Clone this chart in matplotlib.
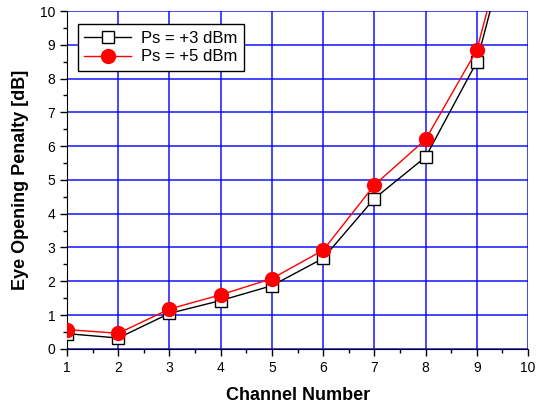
import matplotlib
matplotlib.use("Agg")
from matplotlib import pyplot as plt
from matplotlib.ticker import MultipleLocator

plt.rcParams["font.family"] = ["Liberation Sans", "DejaVu Sans"]

channels = [1, 2, 3, 4, 5, 6, 7, 8, 9, 10]
penalty_3dbm = [0.45, 0.32, 1.05, 1.43, 1.87, 2.68, 4.45, 5.68, 8.50, 14.3]
penalty_5dbm = [0.57, 0.46, 1.18, 1.60, 2.08, 2.92, 4.85, 6.20, 8.85, 14.6]

fig = plt.figure(figsize=(5.45, 4.08), dpi=100)
ax = fig.add_axes([0.123, 0.145, 0.846, 0.828])

ax.plot(channels, penalty_3dbm, color="black", lw=1, marker="s", ms=8,
        mfc="white", mec="black", mew=1, label="Ps = +3 dBm", zorder=3)
ax.plot(channels, penalty_5dbm, color="red", lw=1, marker="o", ms=10,
        mfc="red", mec="red", label="Ps = +5 dBm", zorder=4)

ax.set_xlim(1, 10)
ax.set_ylim(0, 10)
ax.xaxis.set_major_locator(MultipleLocator(1))
ax.yaxis.set_major_locator(MultipleLocator(1))
ax.xaxis.set_minor_locator(MultipleLocator(0.5))
ax.yaxis.set_minor_locator(MultipleLocator(0.5))
ax.grid(True, which="major", color="blue", lw=1.2, alpha=0.85)
ax.set_axisbelow(True)

ax.spines["top"].set_visible(False)
ax.spines["right"].set_visible(False)
ax.tick_params(which="major", direction="out", length=5, width=1, labelsize=10)
ax.tick_params(which="minor", direction="out", length=3, width=1)

ax.set_xlabel("Channel Number", fontsize=13, fontweight="bold", labelpad=9)
ax.set_ylabel("Eye Opening Penalty [dB]", fontsize=13, fontweight="bold", labelpad=8)

ax.legend(loc="upper left", bbox_to_anchor=(0.005, 0.985), fontsize=12,
          fancybox=False, edgecolor="black", framealpha=1, borderpad=0.4,
          handlelength=2.8, handletextpad=0.6, labelspacing=0.2)

fig.savefig("out.png", dpi=100)
